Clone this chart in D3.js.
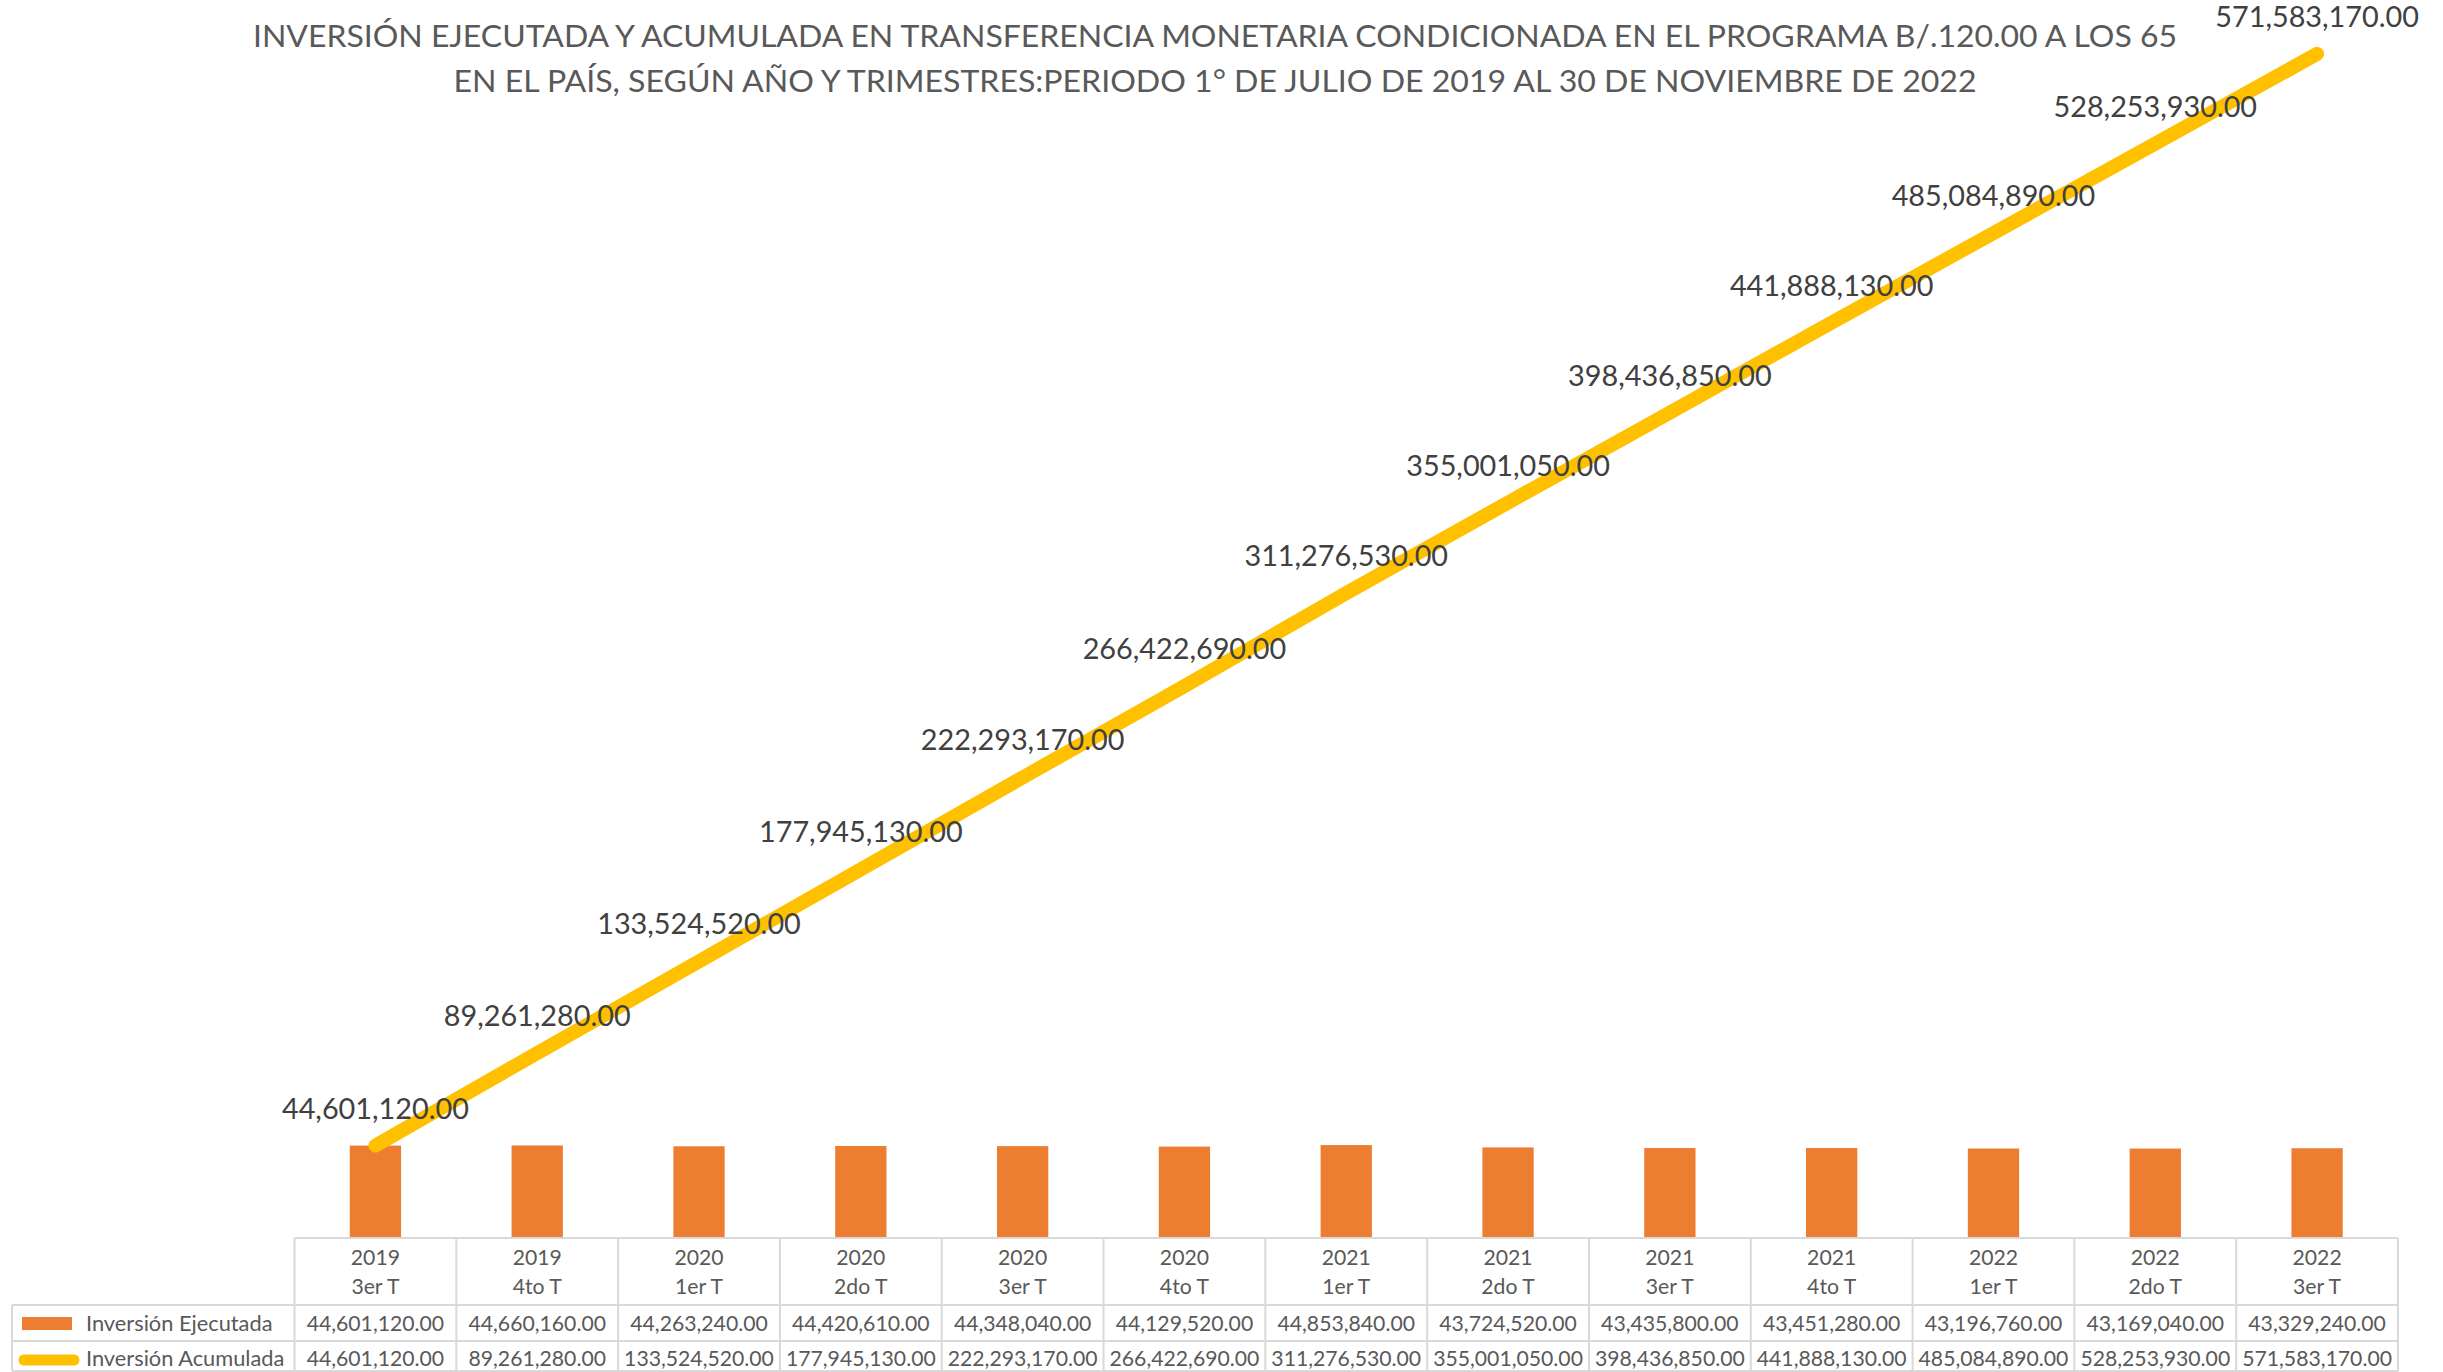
<!DOCTYPE html>
<html><head><meta charset="utf-8">
<script src="https://cdn.jsdelivr.net/npm/d3@7"></script>
<style>html,body{margin:0;padding:0;background:#fff;}svg{display:block;}</style>
</head><body>
<svg id="chart" width="2443" height="1372"></svg>
<script>
const titleLines = [
  "INVERSIÓN EJECUTADA Y ACUMULADA EN TRANSFERENCIA MONETARIA CONDICIONADA EN EL PROGRAMA B/.120.00 A LOS 65",
  "EN EL PAÍS, SEGÚN AÑO Y TRIMESTRES:PERIODO 1° DE JULIO DE 2019 AL 30 DE NOVIEMBRE DE 2022"
];
const years = ["2019","2019","2020","2020","2020","2020","2021","2021","2021","2021","2022","2022","2022"];
const quarters = ["3er T","4to T","1er T","2do T","3er T","4to T","1er T","2do T","3er T","4to T","1er T","2do T","3er T"];
const ejecutada = [44601120, 44660160, 44263240, 44420610, 44348040, 44129520, 44853840, 43724520, 43435800, 43451280, 43196760, 43169040, 43329240];
const acumulada = [44601120, 89261280, 133524520, 177945130, 222293170, 266422690, 311276530, 355001050, 398436850, 441888130, 485084890, 528253930, 571583170];
const seriesNames = ["Inversión Ejecutada", "Inversión Acumulada"];

const svg = d3.select("#chart");
const FONT = "Lato, 'Open Sans', sans-serif";
const idx = d3.range(years.length);
const fmt = d3.format(",.2f");

const x = d3.scaleBand().domain(idx).range([294.5, 2398]).padding(0);
const y = d3.scaleLinear().domain([0, 600e6]).range([1238, -5]);
const cx = i => x(i) + x.bandwidth() / 2;

// title
svg.append("g").selectAll("text").data(titleLines).join("text")
  .attr("x", 1215).attr("y", (d, i) => 47 + i * 45)
  .attr("text-anchor", "middle")
  .attr("font-family", FONT).attr("font-size", 31)
  .attr("fill", "#595959")
  .attr("textLength", (d, i) => i === 0 ? 1924 : 1523)
  .attr("lengthAdjust", "spacingAndGlyphs")
  .text(d => d);

// bars
const bw = x.bandwidth() * 0.317;
svg.append("g").selectAll("rect").data(idx).join("rect")
  .attr("x", i => cx(i) - bw / 2)
  .attr("width", bw)
  .attr("y", i => y(ejecutada[i]))
  .attr("height", i => y(0) - y(ejecutada[i]))
  .attr("fill", "#ED7D31");

// line
const line = d3.line().x(i => cx(i)).y(i => y(acumulada[i]));
svg.append("path").datum(idx)
  .attr("d", line)
  .attr("fill", "none")
  .attr("stroke", "#FFC000")
  .attr("stroke-width", 14)
  .attr("stroke-linecap", "round")
  .attr("stroke-linejoin", "round");

// data labels
svg.append("g").selectAll("text").data(idx).join("text")
  .attr("x", i => cx(i))
  .attr("y", i => y(acumulada[i]) - 27)
  .attr("text-anchor", "middle")
  .attr("font-family", FONT).attr("font-size", 28.8)
  .attr("fill", "#404040")
  .text(i => fmt(acumulada[i]));

// data table
const tg = svg.append("g");
const gridColor = "#D9D9D9";
const x0 = x.range()[0], x1 = x.range()[1];
const legendLeft = 12;
const rowTop = 1238, rowH1 = 1305, rowH2 = 1341, rowBot = 1371;
const hl = (xa, xb, yy) => tg.append("line").attr("x1", xa).attr("x2", xb).attr("y1", yy).attr("y2", yy)
  .attr("stroke", gridColor).attr("stroke-width", 2);
const vl = (xx, ya, yb) => tg.append("line").attr("x1", xx).attr("x2", xx).attr("y1", ya).attr("y2", yb)
  .attr("stroke", gridColor).attr("stroke-width", 2);
hl(x0, x1, rowTop);
hl(legendLeft, x1, rowH1);
hl(legendLeft, x1, rowH2);
hl(legendLeft, x1, rowBot);
vl(legendLeft, rowH1, rowBot);
idx.forEach(i => vl(x(i), rowTop, rowBot));
vl(x1, rowTop, rowBot);

const tFont = 21.2;
tg.append("g").selectAll("text").data(idx).join("text")
  .attr("x", i => cx(i)).attr("y", 1265)
  .attr("text-anchor", "middle").attr("font-family", FONT).attr("font-size", tFont).attr("fill", "#595959")
  .text(i => years[i]);
tg.append("g").selectAll("text").data(idx).join("text")
  .attr("x", i => cx(i)).attr("y", 1294)
  .attr("text-anchor", "middle").attr("font-family", FONT).attr("font-size", tFont).attr("fill", "#595959")
  .text(i => quarters[i]);
[ejecutada, acumulada].forEach((arr, r) => {
  tg.append("g").selectAll("text").data(idx).join("text")
    .attr("x", i => cx(i)).attr("y", r === 0 ? 1331 : 1366)
    .attr("text-anchor", "middle").attr("font-family", FONT).attr("font-size", tFont).attr("fill", "#595959")
    .text(i => fmt(arr[i]));
});

// legend keys
tg.append("rect").attr("x", 22).attr("y", 1317).attr("width", 50).attr("height", 13).attr("fill", "#ED7D31");
tg.append("line").attr("x1", 24).attr("x2", 74).attr("y1", 1360).attr("y2", 1360)
  .attr("stroke", "#FFC000").attr("stroke-width", 11).attr("stroke-linecap", "round");
tg.append("g").selectAll("text").data(seriesNames).join("text")
  .attr("x", 86).attr("y", (d, i) => i === 0 ? 1331 : 1366)
  .attr("font-family", FONT).attr("font-size", 21.8).attr("fill", "#595959")
  .text(d => d);
</script>
</body></html>
